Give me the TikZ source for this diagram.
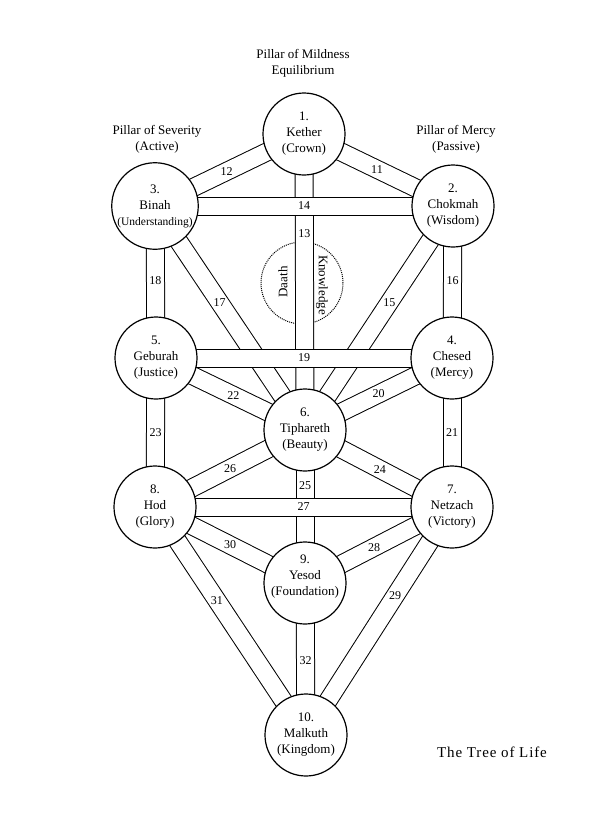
\documentclass[tikz,border=0pt]{standalone}
\usepackage{fontspec}
\setmainfont{Liberation Serif}
\usetikzlibrary{backgrounds}

\tikzset{
    sephira/.style={circle, draw, line width=1.2pt, fill=white, minimum size=82pt,
        inner sep=0pt, align=center, font=\fontsize{13}{16}\selectfont},
    channel/.style={draw, line width=1pt, double=white, double distance=17pt},
    num/.style={inner sep=0pt, font=\fontsize{12}{14}\selectfont},
    pillar/.style={align=center, font=\fontsize{13}{16}\selectfont},
    veil/.style={circle, draw, densely dotted, line width=1pt, minimum size=82pt, inner sep=0pt}
}

\begin{document}
\begin{tikzpicture}[x=1pt, y=-1pt]
    \useasboundingbox (0,0) rectangle (597,839);
    \node[sephira] (kether) at (304,134) {1.\\Kether\\(Crown)};
    \node[sephira] (chokmah) at (453,206) {2.\\Chokmah\\(Wisdom)};
    \node[sephira] (binah) at (155,206) {3.\\Binah\\{\fontsize{11.5}{16}\selectfont(Understanding)}};
    \node[sephira] (chesed) at (452,358) {4.\\Chesed\\(Mercy)};
    \node[sephira] (geburah) at (156,358) {5.\\Geburah\\(Justice)};
    \node[sephira] (tiphareth) at (305,430) {6.\\Tiphareth\\(Beauty)};
    \node[sephira] (netzach) at (452,507) {7.\\Netzach\\(Victory)};
    \node[sephira] (hod) at (155,507) {8.\\Hod\\(Glory)};
    \node[sephira, text depth=16pt, inner ysep=-12pt] (yesod) at (305,583) {9.\\Yesod\\(Foundation)};
    \node[sephira] (malkuth) at (306,735) {10.\\Malkuth\\(Kingdom)};
    \node[pillar] (mildness) at (303,63) {Pillar of Mildness\\Equilibrium};
    \node[pillar] (severity) at (157,139) {Pillar of Severity\\(Active)};
    \node[pillar] (mercy) at (456,139) {Pillar of Mercy\\(Passive)};
    \node[pillar, rotate=90] (death) at (283,282) {Daath};
    \node[pillar, rotate=-90] (knowledge) at (322,285) {Knowledge};
    \node[font=\fontsize{15}{18}\selectfont\addfontfeature{LetterSpace=6}] (title) at (492,752) {The Tree of Life};
    \begin{pgfonlayer}{background}
        \fill[white] (0,0) rectangle (597,839);
        \node[veil] (daath) at (302,283) {};
        \draw[channel] (kether.center) -- node[num, pos=.49] (p11) {11} (chokmah.center);
        \draw[channel] (kether.center) -- node[num, pos=.52] (p12) {12} (binah.center);
        \draw[channel] (kether.center) -- node[num, pos=.335] (p13) {13} (tiphareth.center);
        \draw[channel] (chokmah.center) -- node[num, pos=.43] (p15) {15} (tiphareth.center);
        \draw[channel] (chokmah.center) -- node[num, pos=.49] (p16) {16} (chesed.center);
        \draw[channel] (binah.center) -- node[num, pos=.43] (p17) {17} (tiphareth.center);
        \draw[channel] (binah.center) -- node[num, pos=.49] (p18) {18} (geburah.center);
        \draw[channel] (chesed.center) -- node[num, pos=.5] (p20) {20} (tiphareth.center);
        \draw[channel] (chesed.center) -- node[num, pos=.5] (p21) {21} (netzach.center);
        \draw[channel] (geburah.center) -- node[num, pos=.52] (p22) {22} (tiphareth.center);
        \draw[channel] (geburah.center) -- node[num, pos=.5] (p23) {23} (hod.center);
        \draw[channel] (tiphareth.center) -- node[num, pos=.51] (p24) {24} (netzach.center);
        \draw[channel] (tiphareth.center) -- node[num, pos=.36] (p25) {25} (yesod.center);
        \draw[channel] (hod.center) -- node[num, pos=.5] (p26) {26} (tiphareth.center);
        \draw[channel] (netzach.center) -- node[num, pos=.53] (p28) {28} (yesod.center);
        \draw[channel] (netzach.center) -- node[num, pos=.39] (p29) {29} (malkuth.center);
        \draw[channel] (hod.center) -- node[num, pos=.5] (p30) {30} (yesod.center);
        \draw[channel] (hod.center) -- node[num, pos=.41] (p31) {31} (malkuth.center);
        \draw[channel] (yesod.center) -- node[num, pos=.51] (p32) {32} (malkuth.center);
        \draw[channel] (binah.center) -- node[num, pos=.5] (p14) {14} (chokmah.center);
        \draw[channel] (geburah.center) -- node[num, pos=.5] (p19) {19} (chesed.center);
        \draw[channel] (hod.center) -- node[num, pos=.5] (p27) {27} (netzach.center);
    \end{pgfonlayer}
\end{tikzpicture}
\end{document}
